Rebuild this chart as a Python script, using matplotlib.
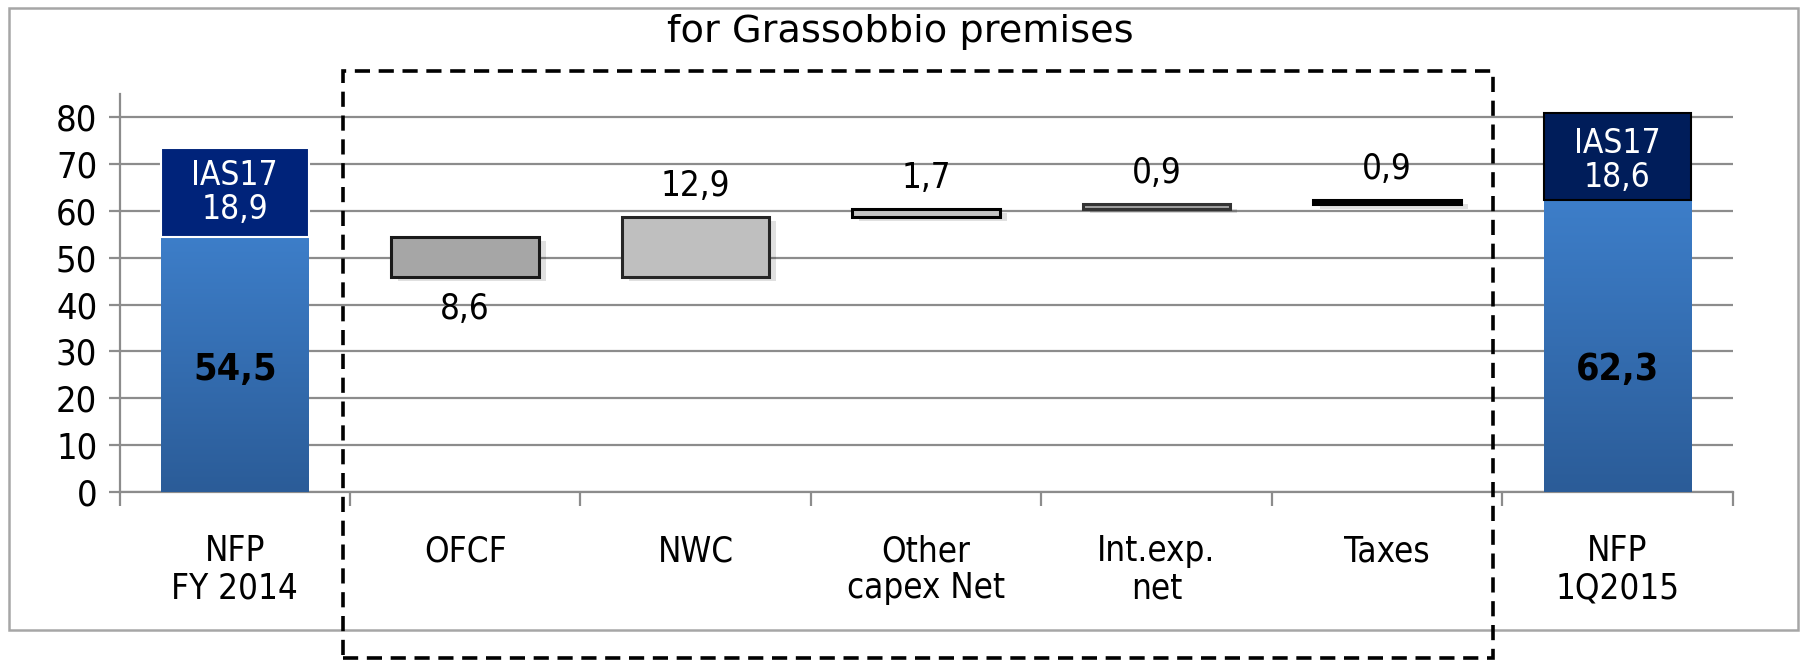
import matplotlib.pyplot as plt
import numpy as np
from matplotlib.patches import Rectangle
from matplotlib.transforms import blended_transform_factory

# data
categories = ["NFP\nFY 2014", "OFCF", "NWC", "Other\ncapex Net", "Int.exp.\nnet", "Taxes", "NFP\n1Q2015"]
nfp_start = 54.5
ias17_start = 18.9
nfp_end = 62.3
ias17_end = 18.6
deltas = [-8.6, 12.9, 1.7, 0.9, 0.9]
delta_labels = ["8,6", "12,9", "1,7", "0,9", "0,9"]
yticks = [0, 10, 20, 30, 40, 50, 60, 70, 80]

# styling
step_fill = ["#a6a6a6", "#bfbfbf", "#c4c4c4", "#a0a0a0", "#000000"]
step_edge = ["#1a1a1a", "#262626", "#000000", "#333333", "#000000"]
navy_start = "#00237a"
navy_end = "#001d5a"
grid_col = "#8c8c8c"
bar_w = 0.64

plt.rcParams["font.family"] = ["DejaVu Sans"]
plt.rcParams["font.stretch"] = "condensed"

fig = plt.figure(figsize=(18.03, 6.61), dpi=100)
ax = fig.add_axes([0.0663, 0.2557, 0.961 - 0.0663, 85 * 0.0070863])

x = np.arange(len(categories))


def gradient_bar(xc, height):
    rect = Rectangle((xc - bar_w / 2, 0), bar_w, height, facecolor="none",
                     edgecolor="none", zorder=3)
    ax.add_patch(rect)
    grad = np.linspace(0, 1, 256).reshape(-1, 1)
    cmap = plt.matplotlib.colors.LinearSegmentedColormap.from_list(
        "blu", ["#2b5c98", "#3d7ec9"])
    im = ax.imshow(grad, extent=[xc - bar_w / 2, xc + bar_w / 2, 0, height],
                   origin="lower", aspect="auto", cmap=cmap, zorder=3)
    im.set_clip_path(rect)


# start bar
gradient_bar(x[0], nfp_start)
ax.bar(x[0], ias17_start, bar_w, bottom=nfp_start, color=navy_start,
       edgecolor="white", linewidth=1.5, zorder=4)
ax.text(x[0], nfp_start + ias17_start / 2, "IAS17\n18,9", color="white",
        ha="center", va="center", fontsize=24, linespacing=1.05, zorder=5)
ax.text(x[0], 26, "54,5", ha="center", va="center",
        fontsize=27, fontweight="bold", zorder=5)

# floating steps
running = nfp_start
for i, d in enumerate(deltas):
    xi = x[i + 1]
    bottom = min(running, running + d)
    h = abs(d)
    # soft shadow
    ax.bar(xi + 0.03, h, bar_w, bottom=bottom - 0.9, color="#000000",
           alpha=0.12, linewidth=0, zorder=2)
    ax.bar(xi, h, bar_w, bottom=bottom, color=step_fill[i],
           edgecolor=step_edge[i], linewidth=2.2, zorder=3)
    if d < 0:
        ax.text(xi, bottom - 6.8, delta_labels[i], ha="center", va="center",
                fontsize=25, zorder=5)
    else:
        ax.text(xi, bottom + h + 6.6, delta_labels[i], ha="center",
                va="center", fontsize=25, zorder=5)
    running += d

# end bar
gradient_bar(x[-1], nfp_end)
ax.bar(x[-1], ias17_end, bar_w, bottom=nfp_end, color=navy_end,
       edgecolor="#000000", linewidth=1.5, zorder=4)
ax.text(x[-1], nfp_end + ias17_end / 2 - 0.8, "IAS17\n18,6", color="white",
        ha="center", va="center", fontsize=24, linespacing=1.05, zorder=5)
ax.text(x[-1], 26, "62,3", ha="center", va="center",
        fontsize=27, fontweight="bold", zorder=5)

# axes styling
ax.set_xlim(-0.5, len(categories) - 0.5)
ax.set_ylim(0, 85)
ax.set_yticks(yticks)
ax.yaxis.grid(True, color=grid_col, linewidth=1.6, zorder=0)
ax.set_axisbelow(True)
for s in ["top", "right"]:
    ax.spines[s].set_visible(False)
ax.spines["left"].set_color(grid_col)
ax.spines["left"].set_linewidth(1.6)
ax.spines["bottom"].set_color(grid_col)
ax.spines["bottom"].set_linewidth(1.6)
ax.tick_params(axis="y", length=8, width=1.6, color=grid_col, labelsize=26,
               pad=8)
ax.set_xticks(np.arange(-0.5, len(categories), 1.0))
ax.set_xticklabels([])
ax.tick_params(axis="x", length=10, width=1.6, color=grid_col)
for xi, lab in zip(x, categories):
    ax.text(xi, -9.0, lab, ha="center", va="top", fontsize=25,
            linespacing=1.12, clip_on=False)

# title
fig.text(0.4995, 0.951, "for Grassobbio premises", ha="center", va="center",
         fontsize=27.5, family="DejaVu Sans", fontstretch="normal")

# dashed box around the bridge items
trans = blended_transform_factory(ax.transData, fig.transFigure)
box = Rectangle((0.47, 0.005), 4.99, 0.887, transform=trans, fill=False,
                edgecolor="black", linewidth=2.6, linestyle=(0, (4.2, 2.4)),
                clip_on=False, zorder=6)
fig.add_artist(box)

# outer frame
frame = Rectangle((0.005, 0.047), 0.992, 0.941, transform=fig.transFigure,
                  fill=False, edgecolor="#a6a6a6", linewidth=1.8)
fig.add_artist(frame)

fig.savefig("out.png", dpi=100)
